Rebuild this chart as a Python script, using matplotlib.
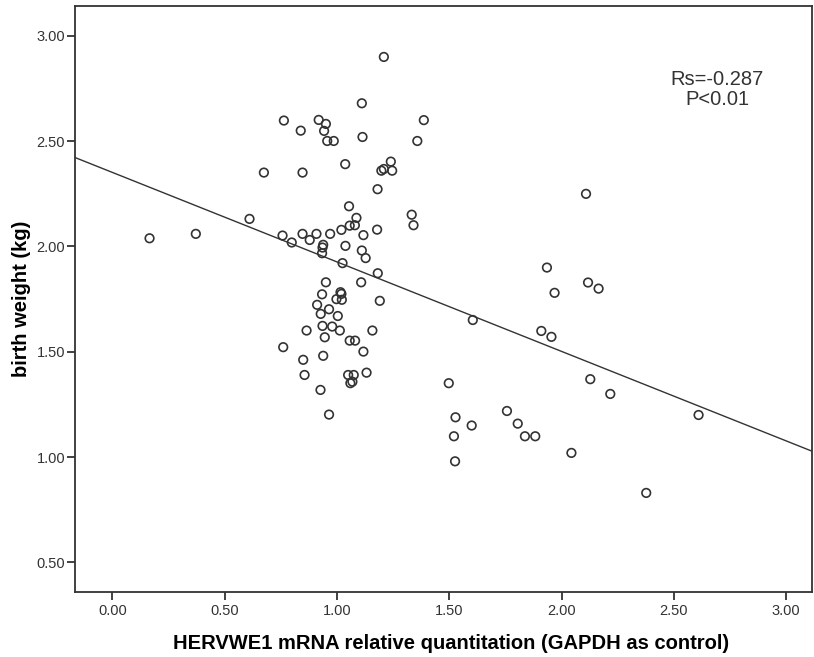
import numpy as np
import matplotlib
matplotlib.use("Agg")
import matplotlib.pyplot as plt
from matplotlib.ticker import FormatStrFormatter

plt.rcParams["font.family"] = ["Liberation Sans", "DejaVu Sans"]

# HERVWE1 mRNA relative quantitation (x) vs birth weight in kg (y)
hervwe1 = [
    1.111, 0.764, 0.839, 0.919, 0.951, 0.943, 0.957, 0.986, 1.114, 1.387,
    1.358, 1.037, 0.847, 1.240, 1.209, 1.198, 1.246, 1.181, 1.054, 1.333,
    1.341, 1.087, 1.057, 1.080, 1.020, 1.179, 1.118, 0.970, 0.909, 0.847,
    0.879, 0.758, 0.799, 0.939, 0.936, 1.038, 1.111, 0.934, 1.128, 1.025,
    1.182, 0.951, 1.108, 1.191, 1.016, 1.020, 0.998, 1.022, 0.934, 0.912,
    0.965, 0.928, 1.004, 0.865, 0.936, 0.979, 1.013, 1.158, 0.946, 1.057,
    1.081, 1.118, 0.761, 0.850, 0.939, 0.856, 1.050, 1.075, 1.060, 1.069,
    1.132, 0.927, 0.965, 1.498, 2.128, 2.217, 2.610, 1.528, 1.600, 1.521,
    1.526, 1.757, 1.805, 1.837, 1.883, 2.044, 2.377, 2.109, 1.935, 1.969,
    2.118, 2.165, 1.910, 1.955, 0.166, 0.372, 0.611, 0.675, 1.209, 1.605,
]
birth_weight = [
    2.680, 2.598, 2.550, 2.601, 2.582, 2.549, 2.501, 2.501, 2.520, 2.600,
    2.501, 2.391, 2.351, 2.403, 2.368, 2.360, 2.360, 2.272, 2.191, 2.151,
    2.101, 2.136, 2.099, 2.101, 2.079, 2.080, 2.054, 2.060, 2.060, 2.060,
    2.031, 2.052, 2.019, 2.008, 1.995, 2.003, 1.981, 1.968, 1.945, 1.921,
    1.873, 1.830, 1.830, 1.742, 1.783, 1.775, 1.750, 1.747, 1.773, 1.723,
    1.702, 1.680, 1.670, 1.601, 1.623, 1.620, 1.601, 1.601, 1.569, 1.553,
    1.553, 1.501, 1.522, 1.462, 1.481, 1.390, 1.390, 1.390, 1.351, 1.358,
    1.401, 1.319, 1.202, 1.351, 1.370, 1.300, 1.200, 1.189, 1.150, 1.099,
    0.980, 1.219, 1.159, 1.099, 1.099, 1.020, 0.830, 2.250, 1.900, 1.780,
    1.829, 1.800, 1.599, 1.571, 2.039, 2.060, 2.131, 2.351, 2.900, 1.651,
]

# fitted line as shown in the figure
fit_intercept = 2.352
fit_slope = -0.425

x_ticks = [0.0, 0.5, 1.0, 1.5, 2.0, 2.5, 3.0]
y_ticks = [0.5, 1.0, 1.5, 2.0, 2.5, 3.0]
x_range = (-0.166, 3.117)
y_range = (0.361, 3.142)

dark = "#333333"

fig = plt.figure(figsize=(8.14, 6.57), dpi=100)
ax = fig.add_axes([0.0921, 0.0994, 0.906, 0.8915])

ax.scatter(hervwe1, birth_weight, s=38, facecolors="none",
           edgecolors=dark, linewidths=1.2, zorder=3)

xs = np.array(x_range)
ax.plot(xs, fit_intercept + fit_slope * xs, color=dark, lw=1.0, zorder=2)

ax.set_xlim(*x_range)
ax.set_ylim(*y_range)
ax.set_xticks(x_ticks)
ax.set_yticks(y_ticks)
ax.xaxis.set_major_formatter(FormatStrFormatter("%.2f"))
ax.yaxis.set_major_formatter(FormatStrFormatter("%.2f"))
ax.tick_params(axis="both", direction="out", length=6, width=1.3,
               color=dark, labelcolor=dark, labelsize=10.5)
ax.tick_params(axis="y", pad=1)
ax.tick_params(axis="x", pad=3)
for sp in ax.spines.values():
    sp.set_color(dark)
    sp.set_linewidth(1.3)

ax.set_xlabel("HERVWE1 mRNA relative quantitation (GAPDH as control)",
              fontsize=14.5, fontweight="bold", color="black")
ax.set_ylabel("birth weight (kg)", fontsize=14.5, fontweight="bold", color="black")
ax.xaxis.set_label_coords(0.51, -0.0876)
ax.yaxis.set_label_coords(-0.0722, 0.5)
for lab in (ax.xaxis.label, ax.yaxis.label):
    lab.set_verticalalignment("center")

ax.text(2.694, 2.746, "Rs=-0.287\nP<0.01",
        ha="center", va="center", fontsize=14.5, color=dark, linespacing=1.1)

fig.savefig("out.png", dpi=100)
